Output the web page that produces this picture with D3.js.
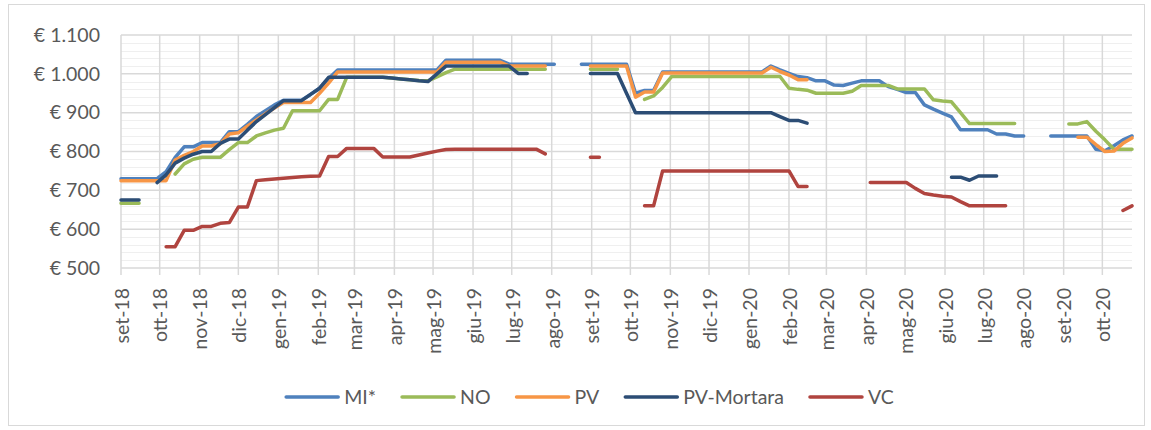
<!DOCTYPE html>
<html>
<head>
<meta charset="utf-8">
<script src="https://cdn.jsdelivr.net/npm/d3@7"></script>
<style>
  body { margin: 0; background: #fff; }
  svg { display: block; font-family: Lato, "Noto Sans", sans-serif; }
</style>
</head>
<body>
<div id="chart"></div>
<script>
// weekly observations, first one on 1 Sep 2018
const firstWeek = '2018-09-01';
const monthNames = ['gen', 'feb', 'mar', 'apr', 'mag', 'giu', 'lug', 'ago', 'set', 'ott', 'nov', 'dic'];
const yTicks = [500, 600, 700, 800, 900, 1000, 1100];
const seriesNames = ['MI*', 'NO', 'PV', 'PV-Mortara', 'VC'];
const seriesColors = ['#4f81bd', '#9bbb59', '#f79646', '#2c4d75', '#b0443f'];

const _ = null;
const mi = [730, 730, 730, 730, 730, 748, 785, 812, 812, 823, 823, 823, 851, 851, 870, 890, 905, 920, 932, 932,
  932, 947, 963, 988, 1010, 1010, 1010, 1010, 1010, 1010, 1010, 1010, 1010, 1010, 1010, 1010, 1035, 1035, 1035, 1035,
  1035, 1035, 1035, 1025, 1025, 1025, 1025, 1025, 1025, _, _, 1025, 1025, 1025, 1025, 1025, 1025, 950, 957, 957,
  1005, 1005, 1005, 1005, 1005, 1005, 1005, 1005, 1005, 1005, 1005, 1005, 1020, 1010, 1001, 993, 990, 982, 982, 971,
  970, 976, 982, 982, 982, 967, 960, 952, 952, 920, 909, 899, 889, 856, 856, 856, 856, 845, 845, 840,
  840, _, _, 840, 840, 840, 840, 840, 806, 802, 815, 830, 840];
const no = [667, 667, 667, _, _, _, 742, 768, 780, 785, 785, 785, 805, 823, 823, 840, 848, 855, 860, 905,
  905, 905, 905, 934, 934, 991, 991, 991, 991, 991, 989, 987, 985, 983, 982, 992, 1003, 1012, 1012, 1012,
  1012, 1012, 1012, 1012, 1012, 1012, 1012, 1012, _, _, _, _, 1012, 1012, 1012, 1012, _, _, 934, 943,
  965, 993, 993, 993, 993, 993, 993, 993, 993, 993, 993, 993, 993, 993, 963, 960, 958, 950, 950, 950,
  950, 955, 970, 970, 970, 970, 961, 961, 961, 961, 933, 930, 928, 900, 872, 872, 872, 872, 872, 872,
  _, _, _, _, _, 871, 871, 877, 852, 830, 806, 806, 806];
const pv = [725, 725, 725, 725, 725, 725, 778, 790, 800, 814, 814, 820, 845, 848, 865, 881, 897, 912, 926, 926,
  926, 926, 950, 976, 1005, 1005, 1005, 1005, 1005, 1005, 1005, 1005, 1005, 1005, 1005, 1005, 1030, 1030, 1030, 1030,
  1030, 1030, 1030, 1020, 1020, 1020, 1020, 1020, _, _, _, _, 1020, 1020, 1020, 1020, 1020, 940, 953, 953,
  1002, 1002, 1002, 1002, 1002, 1002, 1002, 1002, 1002, 1002, 1002, 1002, 1017, 1006, 997, 985, 985, _, _, _,
  _, _, _, _, _, _, _, _, _, _, _, _, _, _, _, _, _, _, _, _,
  _, _, _, _, _, _, 837, 837, 818, 800, 801, 821, 835];
const pvMortara = [675, 675, 675, _, 720, 740, 770, 783, 793, 800, 800, 821, 832, 832, 855, 877, 895, 913, 931, 931,
  931, 947, 963, 991, 991, 991, 991, 991, 991, 991, 989, 987, 985, 982, 980, 1000, 1020, 1020, 1020, 1020,
  1020, 1020, 1020, 1020, 1001, 1001, _, _, _, _, _, _, 1001, 1001, 1001, 1001, 950, 900, 900, 900,
  900, 900, 900, 900, 900, 900, 900, 900, 900, 900, 900, 900, 900, 890, 880, 880, 873, _, _, _,
  _, _, _, _, _, _, _, _, _, _, _, _, 734, 734, 726, 737, 737, 737, _, _,
  _, _, _, _, _, _, _, _, _, _, _, _, _];
const vc = [_, _, _, _, _, 555, 555, 597, 597, 607, 607, 615, 617, 657, 657, 725, 727, 729, 731, 733,
  735, 736, 737, 787, 787, 808, 808, 808, 808, 786, 786, 786, 786, 791, 796, 801, 805, 806, 806, 806,
  806, 806, 806, 806, 806, 806, 806, 794, _, _, _, _, 785, 785, _, _, _, _, 660, 660,
  750, 750, 750, 750, 750, 750, 750, 750, 750, 750, 750, 750, 750, 750, 750, 710, 710, _, _, _,
  _, _, _, 720, 720, 720, 720, 720, 705, 692, 688, 685, 683, 671, 660, 660, 660, 660, 660, _,
  _, _, _, _, _, _, _, _, _, _, _, 648, 660];

const seriesValues = [mi, no, pv, pvMortara, vc];

const width = 1151;
const height = 430;
const plot = { left: 121, right: 1132, top: 35, bottom: 268 };
const textColor = '#595959';

const start = d3.isoParse(firstWeek + 'T00:00:00Z');
const dates = mi.map((d, i) => d3.utcDay.offset(start, 7 * i));

const svg = d3.select('#chart')
  .append('svg')
  .attr('width', width)
  .attr('height', height)
  .attr('viewBox', [0, 0, width, height]);

// chart area border
svg.append('rect')
  .attr('x', 8.5).attr('y', 4.5)
  .attr('width', 1136).attr('height', 421)
  .attr('fill', '#fff')
  .attr('stroke', '#d9d9d9');

const x = d3.scaleUtc()
  .domain(d3.extent(dates))
  .range([plot.left, plot.right]);

const y = d3.scaleLinear()
  .domain([500, 1100])
  .range([plot.bottom, plot.top]);

const months = d3.utcMonth.range(start, d3.utcDay.offset(d3.max(dates), 1));

// minor horizontal gridlines
svg.append('g')
  .selectAll('line')
  .data(d3.range(520, 1100, 20).filter(v => v % 100 !== 0))
  .join('line')
  .attr('x1', plot.left).attr('x2', plot.right)
  .attr('y1', d => Math.round(y(d)) + 0.5).attr('y2', d => Math.round(y(d)) + 0.5)
  .attr('stroke', '#efefef')
  .attr('stroke-width', 1);

// major horizontal gridlines
svg.append('g')
  .selectAll('line')
  .data(yTicks)
  .join('line')
  .attr('x1', plot.left).attr('x2', plot.right)
  .attr('y1', d => y(d)).attr('y2', d => y(d))
  .attr('stroke', '#d9d9d9')
  .attr('stroke-width', 1.5);

// vertical gridlines at the month ticks
svg.append('g')
  .selectAll('line')
  .data(months)
  .join('line')
  .attr('x1', d => x(d)).attr('x2', d => x(d))
  .attr('y1', plot.top).attr('y2', plot.bottom + 7)
  .attr('stroke', '#d9d9d9')
  .attr('stroke-width', 1.5);

// y axis labels
const euro = d3.formatLocale({ decimal: ',', thousands: '.', grouping: [3], currency: ['€ ', ''] }).format('$,.0f');
svg.append('g')
  .selectAll('text')
  .data(yTicks)
  .join('text')
  .attr('x', 100)
  .attr('y', d => y(d))
  .attr('dy', '0.35em')
  .attr('text-anchor', 'end')
  .attr('fill', textColor)
  .style('font-size', '19.5px')
  .text(d => euro(d));

// x axis labels
const monthLabel = d => monthNames[d.getUTCMonth()] + '-' + String(d.getUTCFullYear()).slice(2);
svg.append('g')
  .selectAll('text')
  .data(months)
  .join('text')
  .attr('transform', d => `translate(${x(d)},${plot.bottom + 20}) rotate(-90)`)
  .attr('dy', '0.4em')
  .attr('text-anchor', 'end')
  .attr('fill', textColor)
  .style('font-size', '19.5px')
  .text(monthLabel);

// series
const line = d3.line()
  .defined(d => d != null)
  .x((d, i) => x(dates[i]))
  .y(d => y(d));

seriesValues.forEach((values, k) => {
  svg.append('path')
    .datum(values)
    .attr('fill', 'none')
    .attr('stroke', seriesColors[k])
    .attr('stroke-width', 3.5)
    .attr('stroke-linejoin', 'round')
    .attr('stroke-linecap', 'round')
    .attr('d', line);
});

// legend
const legend = svg.append('g');
const items = legend.selectAll('g')
  .data(seriesNames)
  .join('g');
items.append('line')
  .attr('x1', 0).attr('x2', 52)
  .attr('stroke', (d, i) => seriesColors[i])
  .attr('stroke-width', 3.5)
  .attr('stroke-linecap', 'round');
items.append('text')
  .attr('x', 58)
  .attr('dy', '0.35em')
  .attr('fill', textColor)
  .style('font-size', '19.5px')
  .text(d => d);

let offset = 0;
items.each(function () {
  const g = d3.select(this);
  g.attr('transform', `translate(${offset},0)`);
  offset += 58 + g.select('text').node().getComputedTextLength() + 26;
});
const legendWidth = offset - 26;
legend.attr('transform', `translate(${590 - legendWidth / 2},397)`);
</script>
</body>
</html>
